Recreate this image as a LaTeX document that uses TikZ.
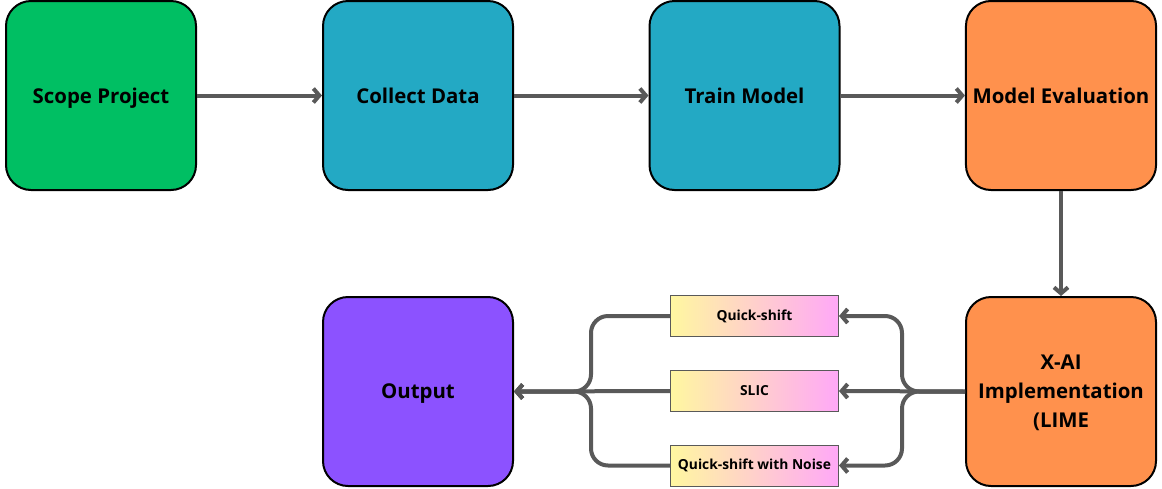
\documentclass[tikz,border=0pt]{standalone}
\usepackage{fontspec}
\setmainfont{Open Sans}
\usetikzlibrary{arrows.meta}
\definecolor{stepgreen}{HTML}{00BF63}
\definecolor{stepteal}{HTML}{23A9C4}
\definecolor{steporange}{HTML}{FF914D}
\definecolor{steppurple}{HTML}{8C52FF}
\definecolor{flowgray}{HTML}{595959}
\definecolor{gradyellow}{HTML}{FFF7A0}
\definecolor{gradpink}{HTML}{FFA8F7}
\newcommand{\pxUnit}[0]{0.5pt}

\begin{document}
\begin{tikzpicture}[x=\pxUnit, y=-\pxUnit]
  \tikzset{stepbox/.style={draw=black, line width=1pt, rounded corners=12.5pt,
             minimum width=95pt, minimum height=94.5pt, align=center, text depth=0pt,
             font=\fontsize{10.2}{14.5}\selectfont\bfseries},
           methodbox/.style={draw=flowgray, line width=0.5pt, left color=gradyellow,
             right color=gradpink, minimum width=84pt, minimum height=20.5pt,
             inner sep=0pt, font=\fontsize{6.9}{8}\selectfont\bfseries},
           flow/.style={draw=flowgray, line width=2pt,
             -{Straight Barb[length=3pt,width=7pt]}},
           brace/.style={flow, rounded corners=8.5pt}}
  \useasboundingbox (0,0) rectangle (1162,488);
  % top row
  \node[stepbox, fill=stepgreen] (scope) at (101,95.5) {Scope Project};
  \node[stepbox, fill=stepteal] (collect) at (418,95.5) {Collect Data};
  \node[stepbox, fill=stepteal] (train) at (744.5,95.5) {Train Model};
  \node[stepbox, fill=steporange] (eval) at (1061,95.5) {Model Evaluation};
  % bottom row
  \node[stepbox, fill=steporange] (xai) at (1061,391.5) {X-AI\\Implementation\\(LIME};
  \node[stepbox, fill=steppurple] (out) at (418,391.5) {Output};
  \node[methodbox] (qs) at (754.5,316) {Quick-shift};
  \node[methodbox] (slic) at (754.5,391) {SLIC};
  \node[methodbox] (qsn) at (754.5,465.5) {Quick-shift with Noise};

  \draw[flow] (scope) -- (collect);
  \draw[flow] (collect) -- (train);
  \draw[flow] (train) -- (eval);
  \draw[flow] (eval) -- (xai);

  \draw[flow] (xai.west) -- (slic.east);
  \draw[brace] (xai.west) -- ++(-63,0) |- (qs.east);
  \draw[brace] (xai.west) -- ++(-63,0) |- (qsn.east);

  \draw[flow] (slic.west) -- (out.east);
  \draw[brace] (qs.west) -- ++(-79,0) |- (out.east);
  \draw[brace] (qsn.west) -- ++(-79,0) |- (out.east);
\end{tikzpicture}
\end{document}
